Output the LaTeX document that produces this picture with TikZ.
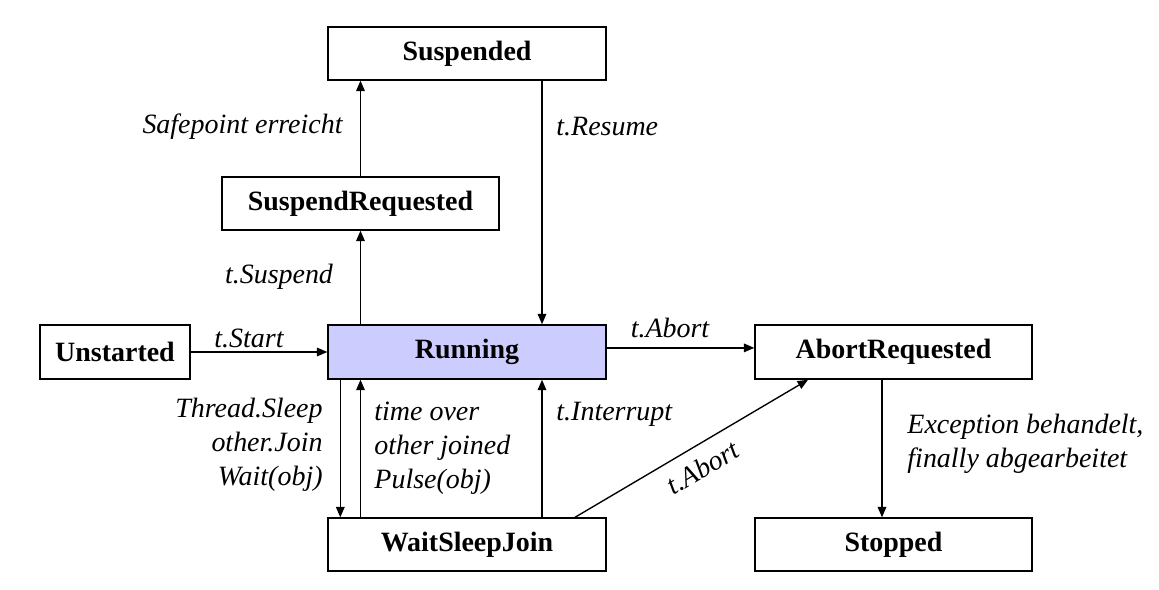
\documentclass[tikz,border=0pt]{standalone}
\usepackage{fontspec}
\setmainfont{Liberation Serif}
\usepackage{tikz}
\usetikzlibrary{arrows.meta}
\definecolor{runfill}{RGB}{204,204,255}
\tikzstyle{state}=[draw,line width=0.6pt,inner sep=0pt,minimum width=122.3pt,minimum height=23.3pt,font=\fontsize{12.3}{15}\selectfont\bfseries]
\tikzstyle{trans}=[line width=0.6pt,-{Triangle[length=4.6pt,width=3.8pt]}]
\tikzstyle{lbl}=[inner sep=0pt,font=\fontsize{12.3}{15}\selectfont\itshape]

\begin{document}
\begin{tikzpicture}[x=0.44pt,y=-0.44pt]
		\useasboundingbox (0,0) rectangle (1159,590);

		\node[state] (susp) at (467,53.5) {Suspended};
		\node[state,minimum width=121.9pt] (susreq) at (360.5,203.5) {SuspendRequested};
		\node[state,minimum width=66pt,minimum height=23.8pt] (unst) at (115,352) {Unstarted};
		\node[state,fill=runfill,minimum height=23.8pt] (run) at (467,352) {Running};
		\node[state,minimum width=121.9pt,minimum height=23.8pt] (abreq) at (893.5,352) {AbortRequested};
		\node[state] (wsj) at (467,544.5) {WaitSleepJoin};
		\node[state,minimum width=121.9pt] (stop) at (893.5,544.5) {Stopped};

		\draw[trans] (susreq.north) -- (susreq.north |- susp.south);
		\draw[trans] ([xshift=33pt]susp.south) -- ([xshift=33pt]run.north);
		\draw[trans] (run.north -| susreq.south) -- (susreq.south);
		\draw[trans] (unst.east) -- (run.west);
		\draw[trans] ([yshift=1.8pt]run.east) -- ([yshift=1.8pt]abreq.west);
		\draw[trans] ([xshift=5.7pt]run.south west) -- ([xshift=5.7pt]wsj.north west);
		\draw[trans] (wsj.north -| susreq.south) -- (run.south -| susreq.south);
		\draw[trans] ([xshift=33pt]wsj.north) -- ([xshift=33pt]run.south);
		\draw[trans] ([xshift=47.5pt]wsj.north) -- node[lbl,sloped,below=5pt] (abtxt) {t.Abort} ([xshift=-37.6pt]abreq.south);
		\draw[trans] (abreq.south -| 882,0) -- (stop.north -| 882,0);

		\node[lbl,anchor=east] (safe) at (343,127) {Safepoint erreicht};
		\node[lbl,anchor=west] (resume) at (556,127) {t.Resume};
		\node[lbl] (suspend) at (279,277) {t.Suspend};
		\node[lbl] (start) at (249,338) {t.Start};
		\node[lbl] (abort) at (670,328) {t.Abort};
		\node[lbl,anchor=east,align=right] (sleep) at (323,445) {Thread.Sleep\\other.Join\\Wait(obj)};
		\node[lbl,anchor=west,align=left] (timeover) at (374,448) {time over\\other joined\\Pulse(obj)};
		\node[lbl,anchor=west] (intr) at (556,414) {t.Interrupt};
		\node[lbl,anchor=west,align=left] (exc) at (907,444) {Exception behandelt,\\finally abgearbeitet};
\end{tikzpicture}
\end{document}
